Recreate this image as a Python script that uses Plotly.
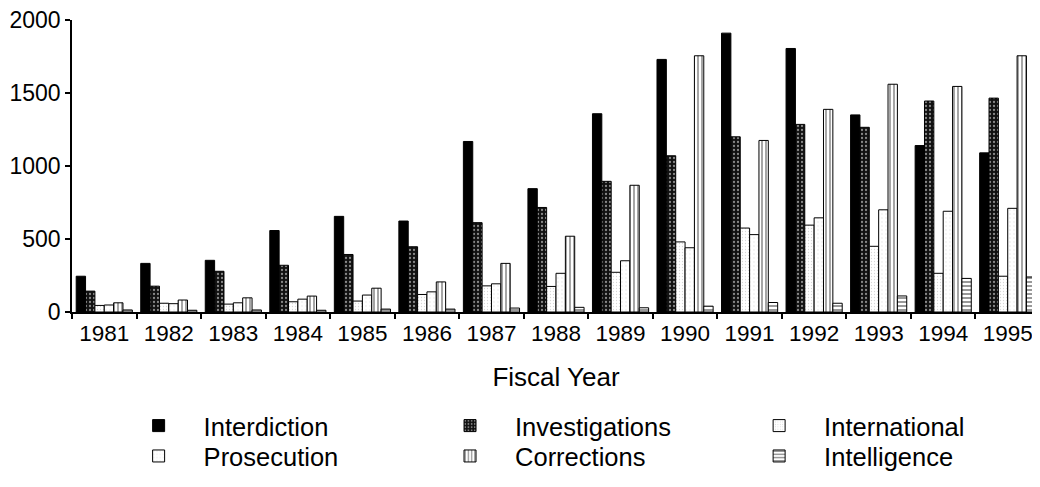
import plotly.graph_objects as go

years = ["1981", "1982", "1983", "1984", "1985", "1986", "1987", "1988",
         "1989", "1990", "1991", "1992", "1993", "1994", "1995"]

interdiction = [245, 333, 354, 558, 655, 623, 1168, 845, 1358, 1730, 1910, 1805, 1350, 1140, 1090]
investigations = [143, 177, 279, 320, 394, 447, 612, 716, 895, 1070, 1200, 1285, 1265, 1445, 1465]
international = [45, 60, 54, 70, 75, 120, 179, 175, 272, 480, 575, 595, 450, 265, 245]
prosecution = [48, 57, 63, 88, 116, 138, 193, 265, 351, 440, 530, 645, 700, 690, 710]
corrections = [63, 82, 97, 109, 163, 206, 333, 519, 868, 1755, 1175, 1388, 1560, 1545, 1755]
intelligence = [14, 12, 14, 12, 20, 20, 27, 32, 29, 40, 65, 60, 110, 230, 240]

names = ["Interdiction", "Investigations", "International",
         "Prosecution", "Corrections", "Intelligence"]
values = [interdiction, investigations, international,
          prosecution, corrections, intelligence]

patterns = [
    dict(shape=""),
    dict(shape=".", fgcolor="white", bgcolor="#111111", size=4, solidity=0.25),
    dict(shape=".", fgcolor="#b0b0b0", bgcolor="white", size=3, solidity=0.15),
    dict(shape=".", fgcolor="#c8c8c8", bgcolor="white", size=4, solidity=0.1),
    dict(shape="|", fgcolor="black", bgcolor="white", size=4, solidity=0.35),
    dict(shape="-", fgcolor="black", bgcolor="white", size=4, solidity=0.4),
]
colors = ["black", "#111111", "white", "white", "white", "white"]
legend_ids = ["legend", "legend2", "legend3", "legend4", "legend5", "legend6"]
legend_x = [0.043, 0.3647, 0.684, 0.043, 0.3647, 0.684]
legend_y = [-0.31, -0.31, -0.31, -0.414, -0.414, -0.414]

FONT = "Arial, Liberation Sans, sans-serif"

fig = go.Figure()
for n, v, p, c, lg in zip(names, values, patterns, colors, legend_ids):
    fig.add_trace(go.Bar(
        x=years, y=v, name=n, legend=lg, showlegend=True,
        marker=dict(color=c, pattern=p, line=dict(color="black", width=1)),
    ))

leg_common = dict(font=dict(family=FONT, size=25.5, color="black"),
                  bgcolor="rgba(0,0,0,0)", tracegroupgap=0, visible=True,
                  orientation="v", yanchor="top", xanchor="left", itemwidth=80)

legend_layout = {lg: dict(x=lx, y=ly, **leg_common)
                 for lg, lx, ly in zip(legend_ids, legend_x, legend_y)}

# page body has an 8px margin, so the figure is 8px smaller than the window
fig.update_layout(
    width=1032, height=479,
    margin=dict(l=64, r=0, t=12, b=175),
    paper_bgcolor="white", plot_bgcolor="white",
    showlegend=True,
    barmode="group", bargap=0.13, bargroupgap=0,
    font=dict(family=FONT, size=22, color="black"),
    xaxis=dict(type="category", range=[-0.5, 14.5], tickson="boundaries",
               automargin=False, ticklabeloverflow="allow",
               ticks="outside", ticklen=5, tickcolor="black", tickwidth=1.5,
               showline=True, linecolor="black", linewidth=1.5, showgrid=False,
               tickfont=dict(size=22.5),
               title=dict(text="Fiscal Year", font=dict(size=26), standoff=23)),
    yaxis=dict(range=[0, 2000], tickvals=[0, 500, 1000, 1500, 2000],
               automargin=False, ticklabeloverflow="allow",
               ticks="outside", ticklen=5, tickcolor="black", tickwidth=1.5,
               showline=True, linecolor="black", linewidth=1.5, showgrid=False,
               zeroline=False, tickfont=dict(size=23)),
    **legend_layout,
)

fig.write_html("out.html")
